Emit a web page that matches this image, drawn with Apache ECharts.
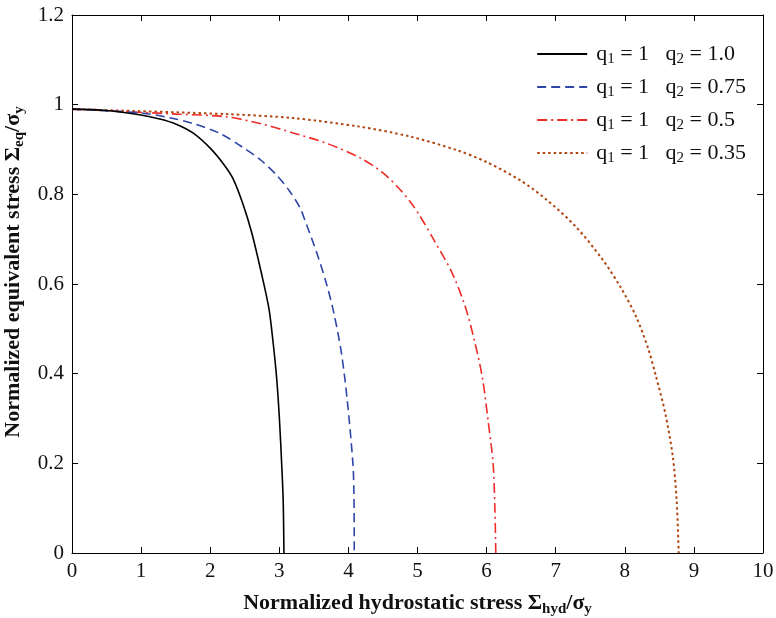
<!DOCTYPE html>
<html>
<head>
<meta charset="utf-8">
<script src="https://cdn.jsdelivr.net/npm/echarts@6/dist/echarts.min.js"></script>
<style>html,body{margin:0;padding:0;background:#fff}#c{width:776px;height:618px}</style>
</head>
<body>
<div id="c"></div>
<script>
// ---- data ----
const q2Labels = ['1.0', '0.75', '0.5', '0.35'];
const xTicks = [0, 1, 2, 3, 4, 5, 6, 7, 8, 9, 10];
const yTicks = [0, 0.2, 0.4, 0.6, 0.8, 1, 1.2];

const hydA = [0, 0.5, 1.0, 1.27, 1.5, 1.75, 2.0, 2.2, 2.33, 2.47, 2.60, 2.74, 2.85, 2.91, 2.96, 3.00, 3.034, 3.056, 3.067];
const eqA  = [0.99, 0.987, 0.977, 0.968, 0.957, 0.937, 0.903, 0.866, 0.835, 0.780, 0.715, 0.625, 0.545, 0.470, 0.393, 0.304, 0.200, 0.118, 0];

const hydB = [0, 1.03, 1.5, 1.75, 2.14, 2.47, 2.72, 2.96, 3.15, 3.3, 3.376, 3.541, 3.68, 3.79, 3.90, 3.983, 4.065, 4.08, 4.085];
const eqB  = [0.99, 0.981, 0.968, 0.958, 0.936, 0.905, 0.878, 0.843, 0.807, 0.770, 0.740, 0.670, 0.602, 0.535, 0.445, 0.341, 0.200, 0.133, 0];

const hydC = [0, 1.51, 2.23, 2.72, 3.20, 3.68, 4.16, 4.50, 4.74, 4.91, 5.03, 5.25, 5.50, 5.69, 5.83, 5.94, 6.02, 6.094, 6.12, 6.133];
const eqC  = [0.99, 0.979, 0.973, 0.958, 0.937, 0.914, 0.882, 0.848, 0.812, 0.780, 0.753, 0.695, 0.625, 0.550, 0.470, 0.390, 0.297, 0.200, 0.100, 0];

const hydD = [0, 2.23, 3.20, 4.16, 4.89, 5.56, 6.0, 6.5, 6.876, 7.29, 7.676, 7.95, 8.17, 8.34, 8.45, 8.585, 8.695, 8.75, 8.78];
const eqD  = [0.99, 0.979, 0.970, 0.951, 0.929, 0.899, 0.872, 0.830, 0.787, 0.728, 0.655, 0.590, 0.525, 0.455, 0.395, 0.312, 0.215, 0.118, 0];

// ---- build ----
const pairs = (xs, ys) => xs.map((x, i) => [x, ys[i]]);
const names = q2Labels.map(v => 'q1 = 1  q2 = ' + v);
const styles = [
  { color: '#000000', type: 'solid', width: 1.6 },
  { color: '#2f46a8', type: [9, 5], width: 1.6 },
  { color: '#ee2d2a', type: [10, 4, 2, 4], width: 1.6 },
  { color: '#b0440e', type: [2.5, 3], width: 2 }
];
const datas = [pairs(hydA, eqA), pairs(hydB, eqB), pairs(hydC, eqC), pairs(hydD, eqD)];

const FONT = '"Liberation Serif", "Times New Roman", serif';
const chart = echarts.init(document.getElementById('c'));

const axisCommon = {
  axisLine: { show: true, onZero: false, lineStyle: { color: '#000', width: 1 } },
  axisTick: { show: true, inside: true, length: 6, lineStyle: { color: '#000' } },
  splitLine: { show: false }
};

chart.setOption({
  animation: false,
  backgroundColor: '#fff',
  grid: { left: 72, right: 13, top: 15, bottom: 65, containLabel: false, outerBoundsMode: 'none' },
  legend: {
    orient: 'vertical',
    right: 25,
    top: 38,
    itemWidth: 50,
    itemHeight: 14,
    itemGap: 9,
    itemStyle: { opacity: 0, borderWidth: 0 },
    data: names,
    textStyle: {
      fontFamily: FONT, fontSize: 22, color: '#111',
      rich: {
        n: { fontFamily: FONT, fontSize: 22, color: '#111' },
        p: { fontFamily: FONT, fontSize: 22, color: '#111', padding: [0, 0, 0, 4] },
        s: { fontFamily: FONT, fontSize: 15, color: '#111', padding: [11, 0, 0, 0] }
      }
    },
    formatter: function (name) {
      const v = q2Labels[names.indexOf(name)];
      return '{p|q}{s|1}{n| = 1   q}{s|2}{n| = ' + v + '}';
    }
  },
  xAxis: [
    Object.assign({
      type: 'value', min: xTicks[0], max: xTicks[xTicks.length - 1], interval: 1,
      position: 'bottom',
      axisLabel: { fontFamily: FONT, fontSize: 21, color: '#111', margin: 8 },
      name: '{b|Normalized hydrostatic stress Σ}{bs|hyd}{b|/σ}{bs|y}',
      nameLocation: 'middle',
      nameGap: 37,
      nameTextStyle: {
        rich: {
          b: { fontFamily: FONT, fontSize: 22, fontWeight: 'bold', color: '#111' },
          bs: { fontFamily: FONT, fontSize: 15, fontWeight: 'bold', color: '#111', padding: [12, 0, 0, 0] }
        }
      }
    }, axisCommon),
    Object.assign({
      type: 'value', min: xTicks[0], max: xTicks[xTicks.length - 1], interval: 1,
      position: 'top', axisLabel: { show: false }
    }, axisCommon)
  ],
  yAxis: [
    Object.assign({
      type: 'value', min: yTicks[0], max: yTicks[yTicks.length - 1], interval: 0.2,
      position: 'left',
      axisLabel: { fontFamily: FONT, fontSize: 21, color: '#111', margin: 8 },
      name: '{b|Normalized equivalent stress Σ}{bs|eq}{b|/σ}{bs|y}',
      nameLocation: 'middle',
      nameGap: 44,
      nameTextStyle: {
        padding: [0, 0, 0, 24],
        rich: {
          b: { fontFamily: FONT, fontSize: 22, fontWeight: 'bold', color: '#111' },
          bs: { fontFamily: FONT, fontSize: 15, fontWeight: 'bold', color: '#111', padding: [12, 0, 0, 0] }
        }
      }
    }, axisCommon),
    Object.assign({
      type: 'value', min: yTicks[0], max: yTicks[yTicks.length - 1], interval: 0.2,
      position: 'right', axisLabel: { show: false }
    }, axisCommon)
  ],
  series: datas.map((d, i) => ({
    name: names[i],
    type: 'line',
    data: d,
    xAxisIndex: 0,
    yAxisIndex: 0,
    symbol: 'none',
    showSymbol: false,
    smooth: 0.3,
    lineStyle: styles[i],
    itemStyle: { color: styles[i].color },
    z: 4 - i
  }))
});
</script>
</body>
</html>
